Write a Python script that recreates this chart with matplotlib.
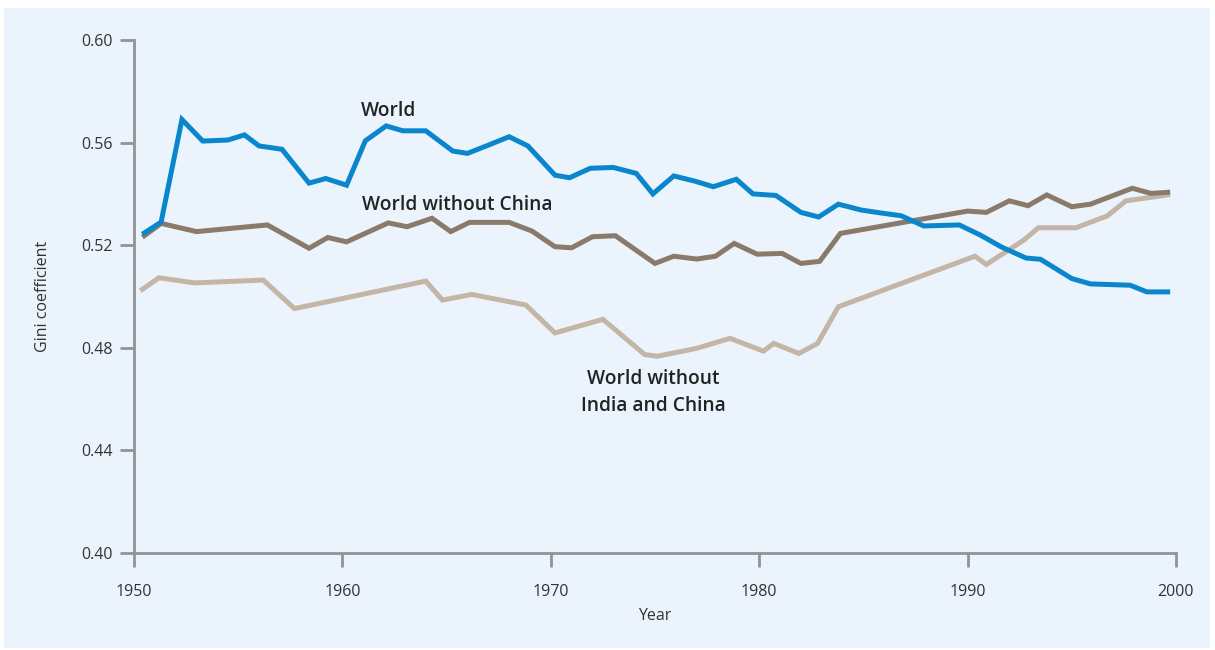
import matplotlib.pyplot as plt
from matplotlib.patches import Rectangle

# values
world_years = [1950.5, 1951.3, 1952.3, 1953.3, 1954.5, 1955.3, 1956.0, 1957.1, 1958.4, 1959.2,
               1960.2, 1961.1, 1962.1, 1962.9, 1964.0, 1965.3, 1966.0, 1967.0, 1968.0, 1968.9,
               1970.2, 1970.9, 1971.9, 1973.0, 1974.1, 1974.9, 1975.9, 1976.9, 1977.8, 1978.9,
               1979.7, 1980.8, 1982.0, 1982.85, 1983.8, 1984.9, 1985.9, 1986.8, 1987.9, 1989.6,
               1990.6, 1991.6, 1992.8, 1993.5, 1995.0, 1995.9, 1997.8, 1998.6, 1999.6]
world = [0.5248, 0.5290, 0.5690, 0.5606, 0.5610, 0.5630, 0.5587, 0.5574, 0.5442, 0.5460,
         0.5434, 0.5607, 0.5665, 0.5646, 0.5646, 0.5567, 0.5558, 0.5590, 0.5623, 0.5587,
         0.5473, 0.5463, 0.5500, 0.5503, 0.5480, 0.5400, 0.5470, 0.5450, 0.5428, 0.5457,
         0.5400, 0.5394, 0.5328, 0.5310, 0.5360, 0.5337, 0.5325, 0.5315, 0.5275, 0.5279,
         0.5240, 0.5194, 0.5150, 0.5145, 0.5070, 0.5049, 0.5044, 0.5018, 0.5018]

no_china_years = [1950.5, 1951.3, 1953.0, 1956.4, 1958.4, 1959.3, 1960.2, 1962.2, 1963.1, 1964.3,
                  1965.2, 1966.1, 1967.0, 1968.0, 1969.1, 1970.2, 1971.0, 1972.0, 1973.1, 1974.1,
                  1975.0, 1975.9, 1977.0, 1977.9, 1978.8, 1979.9, 1981.1, 1982.0, 1982.9, 1983.9,
                  1990.0, 1990.9, 1992.0, 1992.9, 1993.8, 1995.0, 1995.9, 1997.9, 1998.8, 1999.6]
no_china = [0.5237, 0.5285, 0.5253, 0.5279, 0.5188, 0.5230, 0.5213, 0.5287, 0.5272, 0.5305,
            0.5253, 0.5289, 0.5289, 0.5289, 0.5255, 0.5194, 0.5190, 0.5233, 0.5237, 0.5180,
            0.5129, 0.5157, 0.5146, 0.5157, 0.5207, 0.5165, 0.5168, 0.5129, 0.5137, 0.5246,
            0.5333, 0.5328, 0.5373, 0.5354, 0.5396, 0.5350, 0.5360, 0.5422, 0.5402, 0.5406]

no_india_china_years = [1950.4, 1951.2, 1952.9, 1956.2, 1957.7, 1964.0, 1964.8, 1966.2, 1968.8,
                        1970.2, 1972.5, 1974.5, 1975.1, 1977.0, 1978.6, 1980.2, 1980.7, 1981.9,
                        1982.8, 1983.8, 1990.35, 1990.9, 1992.7, 1993.4, 1995.2, 1996.7, 1997.6,
                        1999.6]
no_india_china = [0.5028, 0.5073, 0.5053, 0.5064, 0.4953, 0.5060, 0.4986, 0.5008, 0.4967,
                  0.4858, 0.4911, 0.4774, 0.4767, 0.4798, 0.4837, 0.4787, 0.4817, 0.4778,
                  0.4817, 0.4960, 0.5157, 0.5125, 0.5220, 0.5268, 0.5268, 0.5314, 0.5373,
                  0.5396]

y_ticks = [0.40, 0.44, 0.48, 0.52, 0.56, 0.60]
x_ticks = [1950, 1960, 1970, 1980, 1990, 2000]

plt.rcParams['font.family'] = ['Open Sans', 'DejaVu Sans']

bg = '#ebf4fc'
axis_col = '#939393'
text_col = '#333333'

fig = plt.figure(figsize=(12.15, 6.5), dpi=100)
fig.patch.set_facecolor('white')
# light blue panel behind everything
fig.add_artist(Rectangle((4 / 1215, 2 / 650), 1206 / 1215, 640 / 650,
                         transform=fig.transFigure, facecolor=bg, edgecolor='none', zorder=-5))

ax = fig.add_axes([134 / 1215, 97 / 650, 1042 / 1215, 513 / 650])
ax.set_facecolor('none')

ax.plot(no_india_china_years, no_india_china, color='#c4b6a7', lw=3.6, solid_joinstyle='miter', zorder=3)
ax.plot(no_china_years, no_china, color='#8a7a69', lw=3.6, solid_joinstyle='miter', zorder=4)
ax.plot(world_years, world, color='#0a86cc', lw=3.6, solid_joinstyle='miter', zorder=5)

ax.set_xlim(1950, 2000)
ax.set_ylim(0.40, 0.60)
ax.set_xticks(x_ticks)
ax.set_yticks(y_ticks)
ax.set_yticklabels([f'{v:.2f}' for v in y_ticks])

for s in ['top', 'right']:
    ax.spines[s].set_visible(False)
for s in ['left', 'bottom']:
    ax.spines[s].set_color(axis_col)
    ax.spines[s].set_linewidth(2)
ax.tick_params(axis='both', direction='out', length=10, width=2, color=axis_col,
               labelcolor=text_col, labelsize=11.5)
ax.tick_params(axis='y', pad=5)
ax.tick_params(axis='x', pad=12)

ax.set_xlabel('Year', fontsize=11.5, color=text_col, labelpad=6)
ax.set_ylabel('Gini coefficient', fontsize=11.5, color=text_col, labelpad=22)

lbl = dict(fontsize=13.8, fontweight='semibold', color='#222222', ha='center', va='center')
ax.text(1962.2, 0.5722, 'World', **lbl)
ax.text(1965.5, 0.5355, 'World without China', **lbl)
ax.text(1974.9, 0.4625, 'World without\nIndia and China', linespacing=1.45, **lbl)

fig.savefig('out.png', dpi=100, facecolor='white')
